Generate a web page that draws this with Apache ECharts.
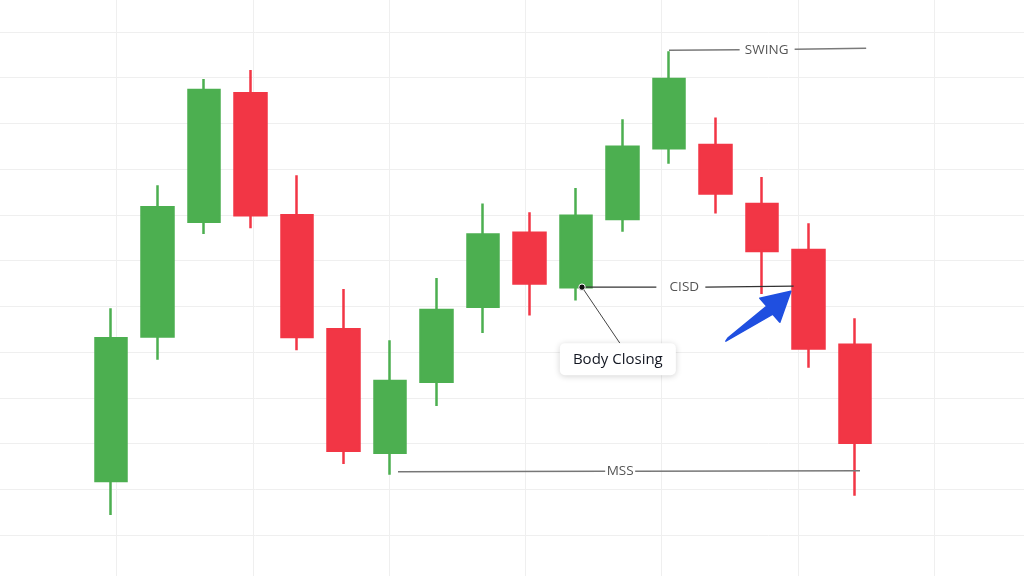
<!DOCTYPE html>
<html>
<head>
<meta charset="utf-8">
<script src="https://cdn.jsdelivr.net/npm/echarts@6/dist/echarts.min.js"></script>
<style>html,body{margin:0;padding:0;background:#fff;}#c{width:1024px;height:576px;}</style>
</head>
<body>
<div id="c"></div>
<script>
// Candle data: [open, close, low, high]
const categories = ['1','2','3','4','5','6','7','8','9','10','11','12','13','14','15','16','17'];
const opens  = [11.8, 43.4, 68.5, 96.6, 69.9, 45.0, 18.0, 33.5, 49.9, 66.1, 54.2, 69.1, 84.6, 85.3, 72.4, 62.3, 41.6];
const closes = [43.0, 71.7, 97.3, 69.9, 43.3, 18.4, 33.7, 49.2, 65.7, 55.0, 69.8, 84.9, 99.7, 74.7, 62.1, 40.8, 20.2];
const lows   = [ 4.4, 38.3, 65.8, 67.1, 40.4, 15.5, 13.2, 28.2, 44.2, 48.0, 51.3, 66.3, 81.2, 70.3, 52.7, 36.6,  8.6];
const highs  = [49.6, 76.5, 99.7,101.7, 78.7, 53.8, 42.6, 56.2, 72.5, 70.6, 75.9, 90.9,105.8, 91.3, 78.3, 68.2, 47.4];
const annotationLabels = { swing: 'SWING', cisd: 'CISD', mss: 'MSS', body: 'Body Closing' };

const GREEN = '#4caf50', RED = '#f23645';
const candleData = categories.map((c, i) => [opens[i], closes[i], lows[i], highs[i]]);

const GRIDC = '#efefef';
const chart = echarts.init(document.getElementById('c'), null, { renderer: 'canvas' });
chart.setOption({
  animation: false,
  backgroundColor: '#ffffff',
  grid: [
    { left: 87.75, right: 145.75, top: 32, bottom: 41, outerBoundsMode: 'none', containLabel: false },
    { left: -19.8, width: 1090.4, top: -13.73, height: 594.5, outerBoundsMode: 'none', containLabel: false }
  ],
  xAxis: [
    { type: 'category', data: categories, gridIndex: 0, boundaryGap: true,
      axisLine: { show: false }, axisTick: { show: false }, axisLabel: { show: false }, splitLine: { show: false } },
    { type: 'value', gridIndex: 1, min: 0, max: 8, interval: 1,
      axisLine: { show: false }, axisTick: { show: false }, axisLabel: { show: false },
      splitLine: { show: true, lineStyle: { color: GRIDC, width: 1 } } }
  ],
  yAxis: [
    { type: 'value', gridIndex: 0, min: 0, max: 110, interval: 10,
      axisLine: { show: false }, axisTick: { show: false }, axisLabel: { show: false },
      splitLine: { show: false } },
    { type: 'value', gridIndex: 1, min: 0, max: 13, interval: 1,
      axisLine: { show: false }, axisTick: { show: false }, axisLabel: { show: false },
      splitLine: { show: true, lineStyle: { color: GRIDC, width: 1 } } }
  ],
  series: [{
    type: 'candlestick',
    xAxisIndex: 0, yAxisIndex: 0,
    data: candleData,
    barWidth: 32,
    itemStyle: { color: GREEN, color0: RED, borderColor: GREEN, borderColor0: RED, borderWidth: 2.5 }
  }]
});

function px(i, v) { return chart.convertToPixel({ xAxisIndex: 0, yAxisIndex: 0 }, [i, v]); }
const band = px(1, 0)[0] - px(0, 0)[0];
const X = i => px(i, 0)[0];
const Y = v => px(0, v)[1];

const gfx = [];
const lineEl = (x1, y1, x2, y2, color, w) => ({ type: 'line', silent: true, z: 50,
  shape: { x1, y1, x2, y2 }, style: { stroke: color, lineWidth: w } });
const textEl = (x, y, t, color, size, weight) => ({ type: 'text', silent: true, z: 51, x, y,
  style: { text: t, fill: color, font: (weight || 'normal') + ' ' + size + 'px "Open Sans", "Noto Sans", sans-serif',
    textAlign: 'center', textVerticalAlign: 'middle' } });

// SWING
const ySwing = Y(highs[12]) - 1;
const cSwing = X(12) + 2.1 * band;
gfx.push(lineEl(X(12), ySwing, cSwing - 27, ySwing - 0.5, '#7a7a7a', 1.5));
gfx.push(lineEl(cSwing + 28, ySwing - 1, X(16) + 0.24 * band, ySwing - 2, '#7a7a7a', 1.5));
gfx.push(textEl(cSwing, ySwing, annotationLabels.swing, '#555', 13.5));

// CISD (level of candle 11 body bottom)
const yC = Y(opens[10]);
const dotX = X(10) + 6;
const cC = X(12) + 0.33 * band;
gfx.push(lineEl(dotX, yC, cC - 28, yC, '#333', 1.2));
gfx.push(lineEl(cC + 21, yC, X(15) - 0.32 * band, yC - 1, '#333', 1.2));
gfx.push(textEl(cC, yC, annotationLabels.cisd, '#555', 13.5));

// Body Closing label
const boxCx = X(11) - 0.1 * band;
const boxTop = yC + 56, boxW = 116, boxH = 32;
gfx.push(lineEl(dotX, yC, boxCx + 2, boxTop, '#444', 1));
gfx.push({ type: 'rect', silent: true, z: 52,
  shape: { x: boxCx - boxW / 2, y: boxTop, width: boxW, height: boxH, r: 5 },
  style: { fill: '#fff', shadowBlur: 6, shadowColor: 'rgba(0,0,0,0.18)', shadowOffsetY: 1 } });
gfx.push(textEl(boxCx, boxTop + boxH / 2 + 0.5, annotationLabels.body, '#131722', 15, '500'));
gfx[gfx.length - 1].z = 53;
gfx.push({ type: 'circle', silent: true, z: 55, shape: { cx: dotX, cy: yC, r: 3.2 },
  style: { fill: '#111', stroke: '#fff', lineWidth: 1 } });

// MSS
const yM = Y(lows[6]) - 3;
const cM = X(11) - 0.05 * band;
gfx.push(lineEl(X(6) + 8, yM, cM - 15, yM - 0.5, '#777', 1.5));
gfx.push(lineEl(cM + 15, yM - 0.5, X(16) + 5, yM - 1, '#777', 1.5));
gfx.push(textEl(cM, yM, annotationLabels.mss, '#555', 13.5));

// Blue arrow (tip just left of candle 16 at CISD level)
const tx = X(15) - 0.38 * band, ty = yC + 4;
const arrow = [[0, 0], [-11, 31], [-18, 23], [-65, 50], [-63, 47], [-24, 15], [-31, 7]];
gfx.push({ type: 'polygon', silent: true, z: 56,
  shape: { points: arrow.map(p => [tx + p[0], ty + p[1]]) },
  style: { fill: '#1f4fe0', stroke: '#1f4fe0', lineWidth: 1.5, lineJoin: 'round' } });

chart.setOption({ graphic: gfx });
</script>
</body>
</html>
